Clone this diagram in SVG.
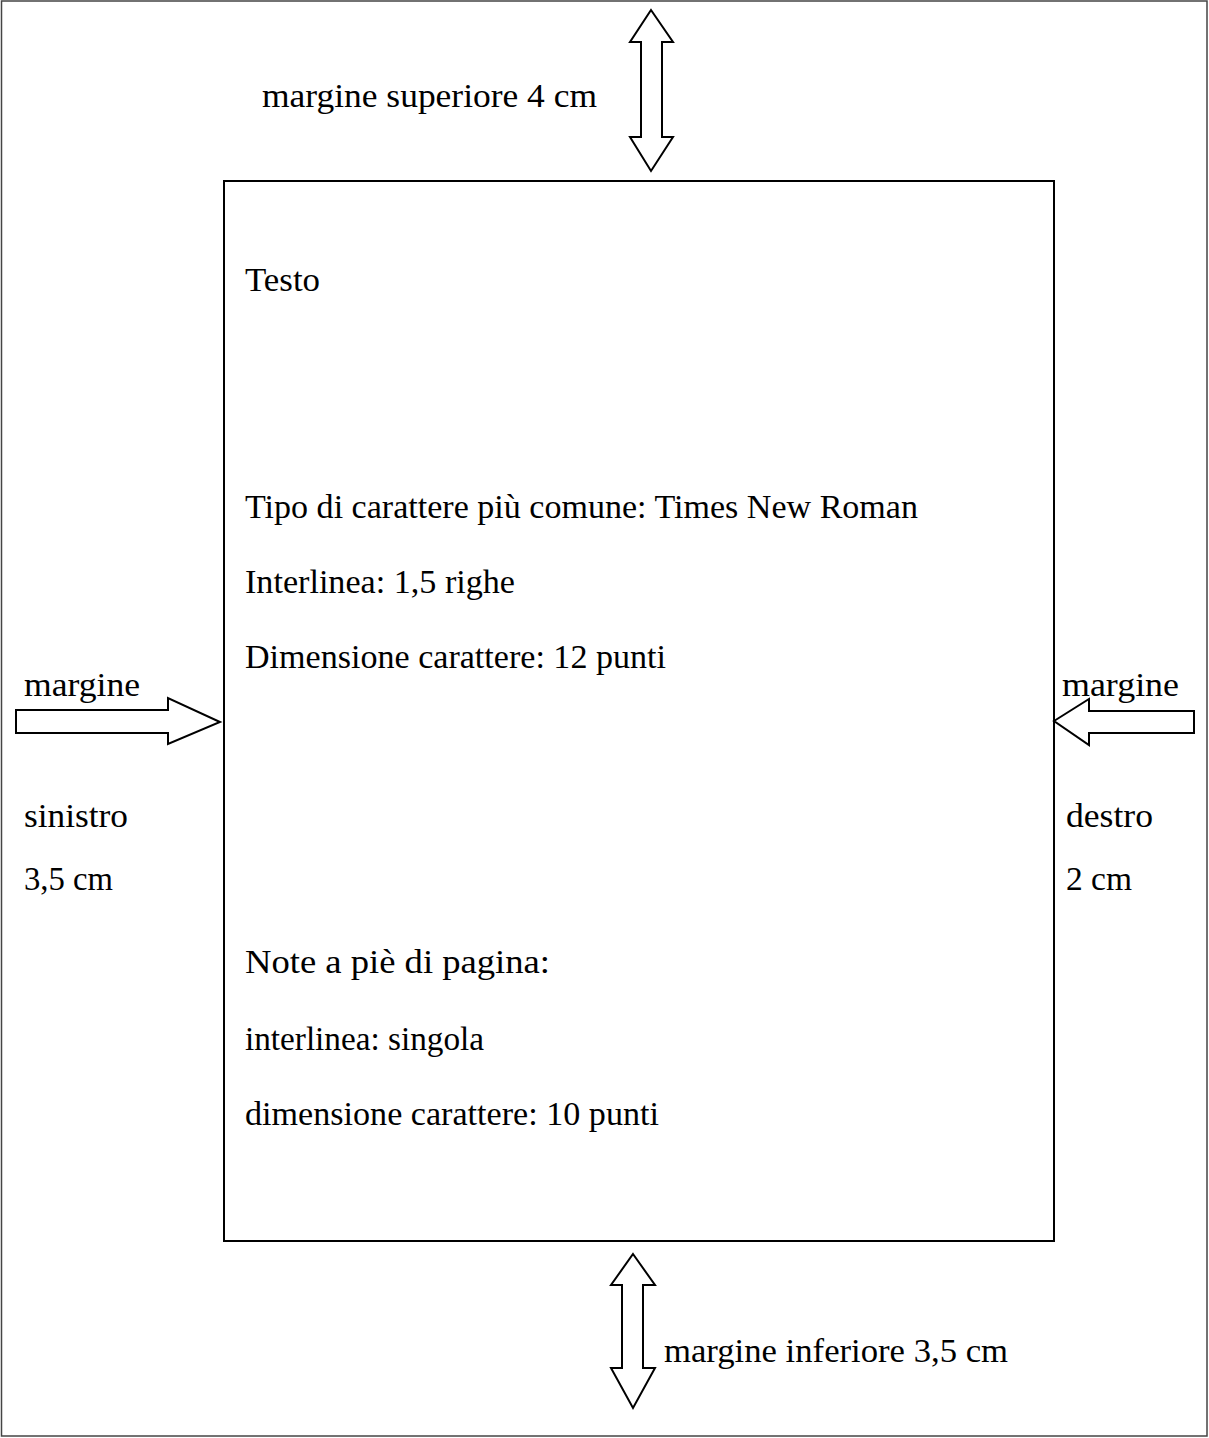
<svg xmlns="http://www.w3.org/2000/svg" width="1209" height="1438" viewBox="0 0 1209 1438">
<style>
.t{font-family:"Liberation Serif","Times New Roman",serif;font-size:34px;fill:#000}
.m{font-family:"Liberation Serif","Times New Roman",serif;font-size:33px;fill:#000}
.arr{fill:#fff;stroke:#000;stroke-width:2;stroke-linejoin:miter}
</style>
<rect x="0" y="0" width="1209" height="1438" fill="#fff"/>
<g id="page-border"><rect x="1.5" y="1" width="1205.5" height="1435" fill="none" stroke="#444" stroke-width="1.5"/></g>
<g id="text-area">
<rect x="224" y="181" width="830" height="1060" fill="none" stroke="#000" stroke-width="2"/>
<text class="t" x="245" y="291" textLength="75" lengthAdjust="spacingAndGlyphs">Testo</text>
<text class="t" x="245" y="518" textLength="673" lengthAdjust="spacingAndGlyphs">Tipo di carattere più comune: Times New Roman</text>
<text class="t" x="245" y="593" textLength="270" lengthAdjust="spacingAndGlyphs">Interlinea: 1,5 righe</text>
<text class="t" x="245" y="668" textLength="421" lengthAdjust="spacingAndGlyphs">Dimensione carattere: 12 punti</text>
<text class="t" x="245" y="973" textLength="305" lengthAdjust="spacingAndGlyphs">Note a piè di pagina:</text>
<text class="t" x="245" y="1050" textLength="239" lengthAdjust="spacingAndGlyphs">interlinea: singola</text>
<text class="t" x="245" y="1125" textLength="414" lengthAdjust="spacingAndGlyphs">dimensione carattere: 10 punti</text>
</g>
<g id="connectors">
<polygon id="arrow-top" class="arr" points="651,10 673,42 662,42 662,137 673,137 651,171 630,137 641,137 641,42 630,42"/>
<polygon id="arrow-bottom" class="arr" points="633,1254 655,1285 643,1285 643,1368 655,1368 633,1408 611,1368 622,1368 622,1285 611,1285"/>
<polygon id="arrow-left" class="arr" points="16,710 168,710 168,698 220,722 168,744 168,733 16,733"/>
<polygon id="arrow-right" class="arr" points="1054,721 1089,699 1089,711 1194,711 1194,733 1089,733 1089,745"/>
</g>
<g id="label-top"><text class="m" x="262" y="107" textLength="335" lengthAdjust="spacingAndGlyphs">margine superiore 4 cm</text></g>
<g id="label-left">
<text class="m" x="24" y="696" textLength="116" lengthAdjust="spacingAndGlyphs">margine</text>
<text class="m" x="24" y="827" textLength="104" lengthAdjust="spacingAndGlyphs">sinistro</text>
<text class="m" x="24" y="890" textLength="89" lengthAdjust="spacingAndGlyphs">3,5 cm</text>
</g>
<g id="label-right">
<text class="m" x="1062" y="696" textLength="117" lengthAdjust="spacingAndGlyphs">margine</text>
<text class="m" x="1066" y="827" textLength="87" lengthAdjust="spacingAndGlyphs">destro</text>
<text class="m" x="1066" y="890" textLength="66" lengthAdjust="spacingAndGlyphs">2 cm</text>
</g>
<g id="label-bottom"><text class="m" x="664" y="1362" textLength="344" lengthAdjust="spacingAndGlyphs">margine inferiore 3,5 cm</text></g>
</svg>
